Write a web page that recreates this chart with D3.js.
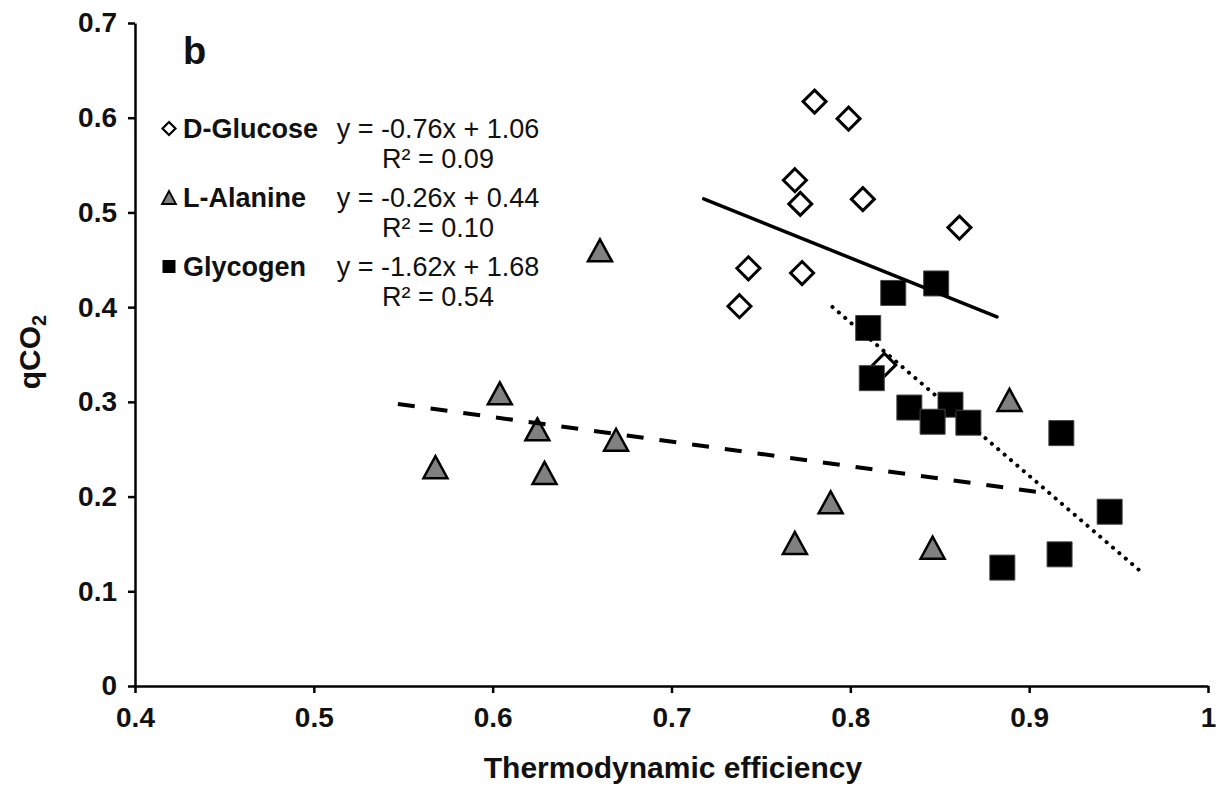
<!DOCTYPE html>
<html>
<head>
<meta charset="utf-8">
<script src="https://cdn.jsdelivr.net/npm/d3@7/dist/d3.min.js"></script>
<style>
  html, body { margin: 0; padding: 0; background: #fff; }
  svg { display: block; font-family: "Liberation Sans", Arial, sans-serif; }
</style>
</head>
<body>
<svg id="chart" width="1224" height="790"></svg>
<script>
// ---- Data ----
const glucoseX  = [0.780, 0.799, 0.769, 0.772, 0.807, 0.861, 0.743, 0.773, 0.738, 0.819];
const glucoseY  = [0.617, 0.599, 0.534, 0.509, 0.514, 0.484, 0.441, 0.436, 0.401, 0.339];
const alanineX  = [0.660, 0.604, 0.625, 0.568, 0.629, 0.669, 0.889, 0.789, 0.769, 0.846];
const alanineY  = [0.460, 0.309, 0.271, 0.231, 0.225, 0.260, 0.302, 0.194, 0.151, 0.146];
const glycogenX = [0.824, 0.848, 0.810, 0.812, 0.833, 0.856, 0.846, 0.866, 0.918, 0.945, 0.917, 0.885];
const glycogenY = [0.415, 0.425, 0.378, 0.325, 0.294, 0.297, 0.279, 0.278, 0.267, 0.184, 0.139, 0.125];

const seriesNames  = ["D-Glucose", "L-Alanine", "Glycogen"];
const equations    = ["y = -0.76x + 1.06", "y = -0.26x + 0.44", "y = -1.62x + 1.68"];
const rSquared     = ["R\u00B2 = 0.09", "R\u00B2 = 0.10", "R\u00B2 = 0.54"];
const trendSlope   = [-0.76, -0.26, -1.62];
const trendInter   = [1.06, 0.44, 1.68];
const trendXStart  = [0.718, 0.547, 0.790];
const trendXEnd    = [0.882, 0.904, 0.964];

const xTicks = [0.4, 0.5, 0.6, 0.7, 0.8, 0.9, 1.0];
const yTicks = [0, 0.1, 0.2, 0.3, 0.4, 0.5, 0.6, 0.7];

// ---- Setup ----
const svg = d3.select("#chart");
const x = d3.scaleLinear().domain([0.4, 1.0]).range([135, 1208]);
const y = d3.scaleLinear().domain([0, 0.7]).range([686, 23]);

const fmt = d => (d === 0 ? "0" : d === 1 ? "1" : d.toFixed(1));

// Axes
const gx = svg.append("g").attr("transform", `translate(0,${y(0)})`)
  .call(d3.axisBottom(x).tickValues(xTicks).tickSize(7).tickSizeOuter(0).tickPadding(14).tickFormat(fmt));
const gy = svg.append("g").attr("transform", `translate(${x(0.4)},0)`)
  .call(d3.axisLeft(y).tickValues(yTicks).tickSize(7).tickSizeOuter(0).tickPadding(11).tickFormat(fmt));

[gx, gy].forEach(g => {
  g.attr("font-size", 28).attr("font-family", "'Liberation Sans', Arial, sans-serif");
  g.select(".domain").attr("stroke", "#000").attr("stroke-width", 2.5);
  g.selectAll(".tick line").attr("stroke", "#000").attr("stroke-width", 2.5);
  g.selectAll(".tick text").attr("fill", "#111").attr("font-size", 28).attr("font-weight", "bold");
});

// Marker shapes
const diamondPath = h => `M0,${-h}L${h},0L0,${h}L${-h},0Z`;
const triPath = (w, h) => `M0,${-h/2}L${w/2},${h/2}L${-w/2},${h/2}Z`;
const sqPath = s => `M${-s/2},${-s/2}h${s}v${s}h${-s}Z`;

const plot = svg.append("g");

// Glucose diamonds
plot.selectAll("path.glu").data(d3.zip(glucoseX, glucoseY)).join("path")
  .attr("class", "glu")
  .attr("transform", d => `translate(${x(d[0])},${y(d[1])})`)
  .attr("d", diamondPath(11.5))
  .attr("fill", "#fff").attr("stroke", "#000").attr("stroke-width", 3);

// Alanine triangles
plot.selectAll("path.ala").data(d3.zip(alanineX, alanineY)).join("path")
  .attr("class", "ala")
  .attr("transform", d => `translate(${x(d[0])},${y(d[1])})`)
  .attr("d", triPath(24, 22))
  .attr("fill", "#808080").attr("stroke", "#000").attr("stroke-width", 2.5)
  .attr("stroke-linejoin", "miter");

// Glycogen squares
plot.selectAll("path.gly").data(d3.zip(glycogenX, glycogenY)).join("path")
  .attr("class", "gly")
  .attr("transform", d => `translate(${x(d[0])},${y(d[1])})`)
  .attr("d", sqPath(25))
  .attr("fill", "#000").attr("stroke", "#444").attr("stroke-width", 1);

// Trend lines
const trendStyles = [
  { dash: null, cap: "round", w: 3.5 },
  { dash: "17 16", cap: "butt", w: 4 },
  { dash: "0.1 8.3", cap: "round", w: 4 }
];
const line = d3.line().x(d => x(d[0])).y(d => y(d[1]));
trendSlope.forEach((m, i) => {
  const pts = [trendXStart[i], trendXEnd[i]].map(v => [v, m * v + trendInter[i]]);
  const p = svg.append("path").datum(pts).attr("d", line)
    .attr("fill", "none").attr("stroke", "#000")
    .attr("stroke-width", trendStyles[i].w)
    .attr("stroke-linecap", trendStyles[i].cap);
  if (trendStyles[i].dash) p.attr("stroke-dasharray", trendStyles[i].dash);
});

// Legend
const legBase = [138, 207, 276];
const legMarkers = [
  g => g.append("path").attr("d", diamondPath(6.5)).attr("fill", "#fff").attr("stroke", "#000").attr("stroke-width", 2.2),
  g => g.append("path").attr("d", triPath(14, 13)).attr("fill", "#808080").attr("stroke", "#000").attr("stroke-width", 1.8),
  g => g.append("path").attr("d", sqPath(13)).attr("fill", "#000")
];
seriesNames.forEach((name, i) => {
  const mg = svg.append("g").attr("transform", `translate(169,${legBase[i] - 9.5})`);
  legMarkers[i](mg);
  svg.append("text").attr("x", 183).attr("y", legBase[i])
    .attr("font-size", 27).attr("font-weight", "bold").attr("fill", "#111").text(name);
  svg.append("text").attr("x", 438).attr("y", legBase[i]).attr("text-anchor", "middle")
    .attr("font-size", 27).attr("fill", "#111").text(equations[i]);
  svg.append("text").attr("x", 438).attr("y", legBase[i] + 30).attr("text-anchor", "middle")
    .attr("font-size", 27).attr("fill", "#111").text(rSquared[i]);
});

// Panel label
svg.append("text").attr("x", 183).attr("y", 64)
  .attr("font-size", 38).attr("font-weight", "bold").attr("fill", "#111").text("b");

// Axis titles
svg.append("text").attr("x", 673).attr("y", 778).attr("text-anchor", "middle")
  .attr("font-size", 30).attr("font-weight", "bold").attr("fill", "#111").text("Thermodynamic efficiency");

const yt = svg.append("text").attr("transform", "translate(40,352) rotate(-90)")
  .attr("text-anchor", "middle").attr("font-size", 30).attr("font-weight", "bold").attr("fill", "#111");
yt.append("tspan").text("qCO");
yt.append("tspan").attr("font-size", 20).attr("dy", 6).text("2");
</script>
</body>
</html>
